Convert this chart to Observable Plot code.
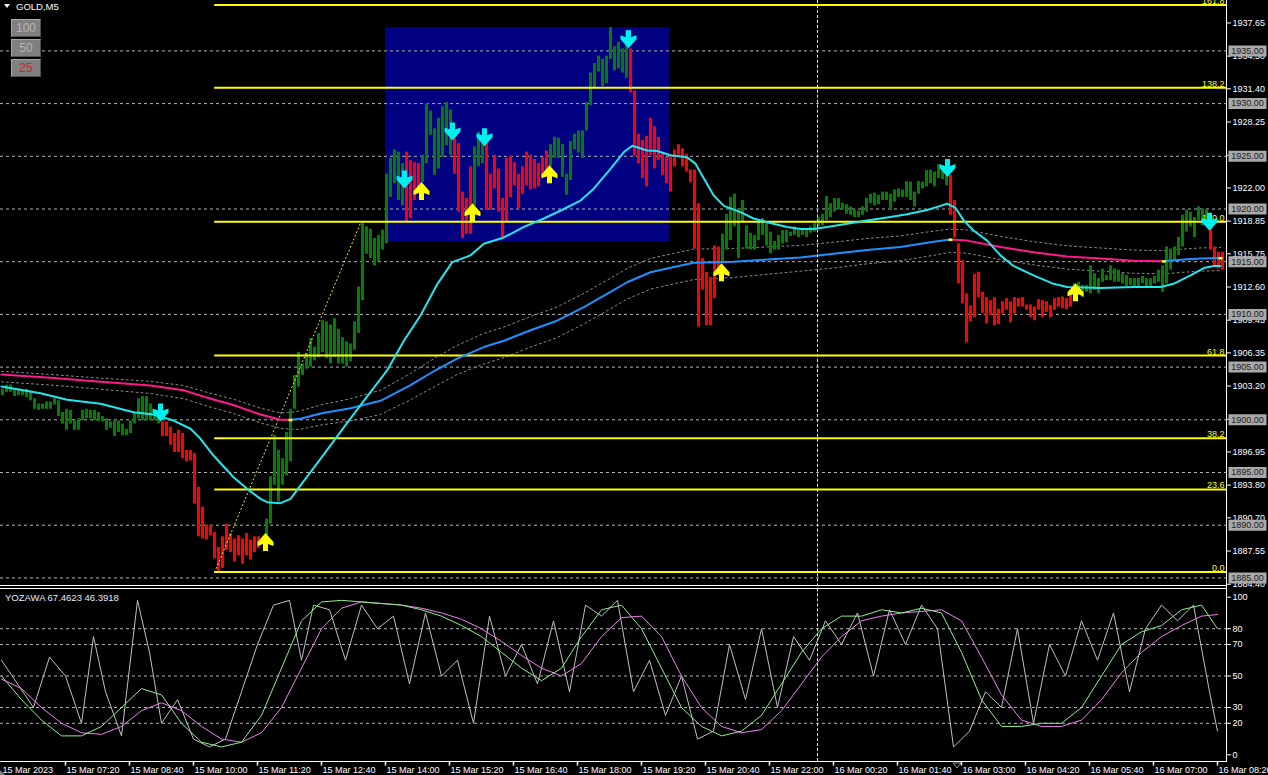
<!DOCTYPE html>
<html><head><meta charset="utf-8">
<script src="https://cdn.jsdelivr.net/npm/d3@7"></script>
<script src="https://cdn.jsdelivr.net/npm/@observablehq/plot@0.6"></script>
<style>
html,body{margin:0;padding:0;background:#000;overflow:hidden}
#wrap{position:relative;width:1268px;height:775px;background:#000;font-family:"Liberation Sans",Arial,sans-serif;overflow:hidden}
#wrap svg.plot{position:absolute;left:0;overflow:visible}
.hl{position:absolute;background:#fff;height:1px}
.vl{position:absolute;background:#fff;width:1px}
.btn{position:absolute;left:11px;width:28px;height:16px;background:#808080;border-top:1px solid #a8a8a8;border-left:1px solid #a8a8a8;border-right:1px solid #505050;border-bottom:1px solid #505050;font-size:12px;line-height:16px;text-align:center;color:#b4b4b4}
#title{position:absolute;left:16px;top:1px;font-size:9.5px;color:#fff}
#tri{position:absolute;left:4px;top:4px;width:0;height:0;border-left:3.5px solid transparent;border-right:3.5px solid transparent;border-top:4px solid #fff}
#ind{position:absolute;left:5px;top:592px;font-size:9.5px;color:#e4ebff}
</style></head>
<body><div id="wrap">
<div id="tri"></div><div id="title">GOLD,M5</div>
</div>
<script>
// ---------------- DATA ----------------
const barOpen = [
1902.3,1902.6,1902.6,1902.2,1902.3,1902.3,1902.1,1901.8,1901.0,1900.9,
1901.0,1901.0,1901.0,1901.4,1900.3,1899.6,1899.0,1899.6,1899.0,1899.0,
1899.9,1900.1,1900.1,1899.9,1899.8,1899.8,1899.0,1899.2,1898.4,1898.8,
1898.5,1898.5,1898.7,1899.6,1900.1,1899.9,1899.9,1899.9,1899.9,1899.6,
1899.8,1899.8,1899.3,1898.7,1899.0,1898.7,1897.1,1897.1,1896.8,1893.6,
1891.7,1890.0,1890.0,1889.3,1887.9,1888.9,1890.1,1889.2,1888.7,1889.0,
1888.7,1889.2,1888.6,1888.9,1888.9,1888.7,1888.9,1890.1,1893.8,1892.2,
1893.8,1894.7,1896.0,1901.0,1903.1,1904.2,1904.8,1905.0,1905.6,1905.9,
1906.4,1905.8,1905.3,1905.9,1905.3,1905.3,1905.0,1905.5,1906.6,1908.2,
1911.3,1915.7,1915.3,1914.6,1915.0,1916.1,1916.7,1921.1,1922.4,1920.8,
1920.3,1925.4,1924.6,1924.4,1924.3,1922.5,1924.3,1927.0,1923.2,1923.8,
1924.9,1926.0,1925.1,1926.8,1926.2,1921.6,1921.0,1924.0,1920.3,1924.0,
1924.3,1926.2,1923.3,1925.1,1923.8,1921.0,1924.8,1925.0,1924.4,1923.3,
1924.0,1925.4,1925.1,1924.7,1924.3,1924.9,1925.5,1924.0,1924.8,1924.8,
1923.0,1921.3,1922.7,1925.6,1925.3,1924.8,1927.4,1929.8,1931.4,1933.0,
1931.6,1931.9,1934.2,1933.1,1933.3,1932.9,1932.4,1935.2,1931.2,1927.1,
1926.5,1926.9,1928.6,1927.8,1926.8,1925.2,1924.9,1925.0,1925.6,1926.1,
1925.7,1925.2,1923.7,1923.7,1920.5,1915.3,1914.0,1913.5,1916.5,1916.4,
1914.8,1916.1,1917.0,1918.3,1915.3,1918.75,1916.2,1916.1,1916.1,1917.0,
1917.5,1916.5,1915.75,1916.1,1916.1,1916.7,1916.8,1917.4,1917.5,1917.3,
1917.5,1917.3,1917.7,1917.8,1918.3,1918.4,1918.9,1919.2,1919.7,1919.9,
1919.9,1919.5,1919.4,1919.2,1919.2,1919.4,1919.7,1920.5,1920.3,1920.4,
1920.8,1920.8,1919.9,1920.65,1921.1,1921.1,1921.1,1920.8,1920.2,1921.4,
1921.9,1922.1,1922.4,1922.1,1922.9,1922.8,1922.2,1923.2,1920.8,1916.7,
1915.1,1911.95,1910.8,1913.8,1914.0,1912.1,1911.6,1911.3,1911.6,1910.5,
1911.2,1911.5,1911.2,1911.6,1911.5,1911.6,1910.9,1910.9,1910.7,1911.4,
1911.3,1911.2,1910.85,1911.5,1911.6,1911.65,1911.5,1912.3,1911.6,1912.3,
1911.6,1912.1,1911.95,1912.3,1911.95,1913.05,1913.2,1913.2,1913.05,1913.05,
1912.9,1912.65,1912.75,1912.6,1912.65,1912.9,1912.6,1912.6,1912.9,1913.05,
1912.1,1912.9,1914.2,1915.1,1915.6,1916.4,1917.8,1918.3,1917.3,1918.9,
1918.4,1918.6,1919.1,1916.4,1915.9,1915.9];
const barClose = [
1902.9,1903.3,1903.3,1902.9,1902.9,1902.8,1902.9,1902.6,1902.0,1901.5,
1901.5,1901.7,1901.7,1902.0,1901.8,1900.7,1901.0,1900.9,1899.9,1900.1,
1900.9,1901.0,1900.9,1900.9,1900.7,1900.3,1900.1,1899.8,1899.9,1899.9,
1899.6,1899.1,1899.9,1900.6,1902.0,1902.2,1902.2,1901.5,1900.7,1900.3,
1898.4,1898.4,1897.6,1896.9,1896.9,1896.3,1896.0,1896.1,1892.0,1888.9,
1888.7,1888.6,1889.0,1886.8,1885.5,1885.9,1887.6,1887.4,1886.5,1887.1,
1886.3,1887.1,1886.7,1887.4,1887.8,1888.2,1890.6,1894.6,1898.5,1897.1,
1896.3,1898.8,1901.0,1904.2,1906.4,1905.3,1906.3,1907.7,1906.9,1908.2,
1909.4,1909.3,1909.0,1909.6,1908.6,1907.8,1907.4,1907.2,1909.3,1912.6,
1918.6,1918.3,1918.1,1917.2,1917.5,1918.0,1923.3,1924.8,1925.6,1925.4,
1924.3,1918.8,1919.1,1920.8,1921.8,1925.1,1930.0,1929.3,1927.6,1928.6,
1929.7,1930.1,1929.4,1923.3,1919.7,1917.2,1917.6,1917.6,1925.9,1927.3,
1927.0,1919.9,1919.9,1921.9,1919.7,1917.3,1918.8,1921.1,1922.2,1920.0,
1921.4,1922.2,1921.8,1921.9,1922.1,1923.0,1923.0,1926.1,1926.8,1926.7,
1926.1,1923.3,1926.4,1927.1,1927.4,1927.4,1930.1,1932.9,1933.8,1934.5,
1934.2,1934.5,1937.2,1935.4,1935.8,1935.2,1936.9,1931.0,1925.0,1924.3,
1922.9,1922.1,1925.1,1923.8,1924.6,1923.2,1922.4,1921.6,1924.0,1925.1,
1924.0,1923.5,1922.5,1916.2,1908.8,1912.3,1908.95,1908.95,1911.5,1914.2,
1917.6,1919.5,1921.1,1921.4,1920.0,1920.8,1918.4,1917.7,1917.5,1918.9,
1919.1,1918.75,1917.8,1916.9,1917.5,1917.96,1917.96,1917.8,1918.3,1917.96,
1917.96,1918.1,1918.3,1918.6,1919.2,1919.5,1921.2,1920.5,1921.0,1921.0,
1920.55,1920.4,1920.2,1919.9,1919.8,1920.2,1921.0,1921.4,1921.5,1921.3,
1921.6,1921.6,1921.4,1921.8,1921.9,1921.8,1922.6,1922.55,1921.6,1922.6,
1922.55,1923.65,1923.7,1923.5,1924.2,1923.6,1924.3,1919.4,1917.3,1912.9,
1911.0,1907.3,1909.3,1909.7,1911.6,1910.1,1909.1,1909.9,1908.95,1909.05,
1910.05,1910.4,1909.2,1910.05,1910.7,1910.7,1910.4,1909.7,1909.4,1910.4,
1909.7,1910.2,1909.7,1910.4,1910.7,1910.55,1910.45,1910.7,1912.9,1913.05,
1912.75,1912.75,1914.6,1913.85,1913.4,1914.3,1913.7,1914.6,1914.3,1914.2,
1913.85,1913.7,1913.4,1913.4,1913.4,1913.6,1913.4,1913.4,1913.6,1914.2,
1914.6,1916.4,1916.2,1916.4,1917.3,1919.4,1919.9,1919.7,1919.2,1920.2,
1920.0,1919.9,1916.1,1914.6,1914.3,1914.2];

// fast moving average (cyan)
const fastBars = [0,9.75,16.4,24.75,33,38,43,47.25,49.75,53,58,61.4,64.75,66.4,69.75,72.25,74.75,79.75,86,91,96.4,100.6,104.75,109,112.7,117.25,120.6,125.6,130.6,135.6,140.6,144.75,148,152.25,155.6,157.7,161.4,163.9,167.25,171.4,173.5,175.6,178,180.6,184.75,188,191.4,196.4,199.75,203,206.4,211.4,216.4,221.4,226.4,231.4,234.75,236.4,238.5,240.6,243,246.4,249.75,253,258,263,266.4,274.75,283,289.75,293,297.25,300.6,303,304.75];
const fastVals = [1903.16,1902.52,1901.9,1901.52,1900.72,1900.5,1899.93,1899.15,1898.2,1896.61,1894.55,1893.45,1892.5,1892.18,1892.09,1892.5,1893.77,1896.3,1899.5,1902.0,1904.68,1907.5,1909.9,1912.9,1914.96,1915.6,1916.7,1917.3,1918.3,1919.1,1920.0,1920.8,1921.9,1923.8,1925.4,1926.0,1925.55,1925.5,1925.1,1924.9,1924.3,1922.9,1921.3,1920.3,1919.7,1919.1,1918.75,1918.3,1918.1,1918.1,1918.3,1918.6,1918.9,1919.2,1919.5,1919.9,1920.3,1920.5,1920.1,1918.9,1917.96,1917.0,1915.6,1914.6,1913.7,1912.9,1912.6,1912.5,1912.6,1912.6,1912.9,1913.7,1914.4,1914.6,1914.6];

// slow moving average (pink falling / blue rising) and its envelope
const slowBars = [0,12.25,24.75,37.25,45.5,51.4,58,64.75,69.75,72.25,74.75,79.75,87.25,94.75,102.25,108.5,113.9,120.6,125.6,132.25,138.9,145.6,151.4,156.4,162.25,168.1,173.1,183,191.4,199.75,208,216.4,224.75,233,237.25,241.4,249.75,258,266.4,274.75,283,290.6,295.6,299.75,304.75];
const slowVals = [1904.3,1904.0,1903.6,1903.25,1902.8,1902.1,1901.4,1900.5,1900.0,1900.0,1900.1,1900.6,1901.1,1901.8,1903.3,1904.7,1905.8,1906.9,1907.5,1908.5,1909.4,1910.7,1911.95,1913.05,1914.0,1914.5,1914.9,1915.0,1915.2,1915.4,1915.75,1916.1,1916.4,1916.9,1917.1,1917.0,1916.4,1915.9,1915.5,1915.3,1915.1,1915.05,1915.2,1915.3,1915.35];
const slowTurnBars = [72.25,237.25,290.6];
const envUpper = [1904.6,1904.3,1903.95,1903.65,1903.25,1902.6,1901.95,1901.1,1900.65,1900.7,1900.85,1901.4,1902.0,1902.8,1904.4,1905.9,1907.05,1908.2,1908.8,1909.8,1910.7,1912.0,1913.25,1914.35,1915.3,1915.8,1916.2,1916.25,1916.4,1916.55,1916.85,1917.2,1917.45,1917.9,1918.1,1918.0,1917.4,1916.9,1916.5,1916.3,1916.1,1916.05,1916.2,1916.3,1916.35];
const envLower = [1903.6,1903.3,1902.9,1902.5,1902.0,1901.3,1900.6,1899.7,1899.2,1899.1,1899.1,1899.5,1899.9,1900.5,1901.9,1903.2,1904.3,1905.3,1905.9,1906.9,1907.8,1909.1,1910.35,1911.45,1912.4,1912.9,1913.3,1913.5,1913.8,1914.1,1914.4,1914.8,1915.1,1915.6,1915.9,1915.8,1915.2,1914.7,1914.3,1914.1,1913.9,1913.85,1914.0,1914.1,1914.15];

// signal arrows
const downArrowBars = [39.75,100.75,112.75,120.75,156.75,236.5,302];
const downArrowPrices = [1900.7,1922.8,1927.35,1926.8,1936.1,1923.9,1918.8];
const upArrowBars = [66,105,117.75,137,180,268.5];
const upArrowPrices = [1888.4,1921.7,1919.7,1923.3,1914.0,1912.1];

// Fibonacci retracement
const fibAnchorBars = [53.3,89.9];
const fibAnchorPrices = [1885.55,1918.8];
const fibLevels = [0,23.6,38.2,61.8,100,138.2,161.8];

// rectangle zone
const zoneBars = [96,167];
const zonePrices = [1916.9,1937.2];

// horizontal price lines, axis ticks
const levelPrices = [1885,1890,1895,1900,1905,1910,1915,1920,1925,1930,1935];
const priceTicks = [1937.65,1934.50,1931.40,1928.25,1925.10,1922.00,1918.85,1915.75,1912.60,1909.45,1906.35,1903.20,1900.05,1896.95,1893.80,1890.70,1887.55,1884.40];
const daySeparatorBars = [204];

// time axis
const timeTickBars = [0,16,32,48,64,80,96,112,128,144,160,176,192,208,224,240,256,272,288,304];
const timeLabels = ["15 Mar 2023","15 Mar 07:20","15 Mar 08:40","15 Mar 10:00","15 Mar 11:20","15 Mar 12:40","15 Mar 14:00","15 Mar 15:20","15 Mar 16:40","15 Mar 18:00","15 Mar 19:20","15 Mar 20:40","15 Mar 22:00","16 Mar 00:20","16 Mar 01:40","16 Mar 03:00","16 Mar 04:20","16 Mar 05:40","16 Mar 07:00","16 Mar 08:20"];

// oscillator (YOZAWA)
const oscBars = [0,5,10,15,20,25,30,35,40,45,50,55,60,65,70,75,80,85,90,95,100,105,110,115,120,125,130,135,140,145,150,155,160,165,170,175,180,185,190,195,200,205,210,215,220,225,230,235,240,245,250,255,260,265,270,275,280,285,290,295,300,304];
const oscGreen = [50,35,22,12,12,18,30,42,38,20,8,5,8,25,55,85,97,98,97,96,95,92,88,82,75,65,55,47,55,75,92,95,80,55,30,18,12,15,25,45,65,80,88,88,92,90,93,90,65,35,18,18,20,20,30,50,70,78,82,92,95,80];
const oscPink = [48,42,30,20,14,13,18,28,33,28,18,10,8,14,30,55,80,93,97,96,95,93,90,86,80,72,63,55,50,58,75,87,88,75,50,30,18,14,16,28,45,62,75,85,88,90,91,92,85,62,38,22,18,18,22,35,52,65,75,82,88,89];
const grayBars = [0,4,8,12,16,20,23,26,30,34,37,40,44,48,52,56,60,64,68,72,75,78,82,86,90,94,98,102,106,110,114,118,122,126,130,134,138,142,146,150,154,158,162,166,170,174,178,182,186,190,194,198,202,206,210,214,218,222,226,230,234,238,242,246,250,254,258,262,266,270,274,278,282,286,290,294,298,302,304];
const grayVals = [60,45,30,62,50,20,75,40,12,98,65,20,35,10,5,10,40,70,95,98,60,95,92,60,95,80,88,45,90,50,60,20,88,50,70,45,85,40,95,88,98,40,60,25,50,10,15,70,35,80,30,75,60,85,70,90,50,92,70,95,80,5,15,40,30,80,20,70,50,85,60,90,40,80,95,85,95,40,15];
const oscLevels = [80,70,50,30,20];
const oscTicks = [100,80,70,50,30,20,0];

// ---------------- BUILD ----------------
const FONT = '"Liberation Sans", Arial, sans-serif';
const W = 1268, MR = 42;
const xDomain = [-0.25, 306.25];
const bars = barOpen.map((o, i) => ({i, o, c: barClose[i]}));
const fast = fastBars.map((b, k) => ({b, v: fastVals[k]}));
let seg = 0; const slowPts = [], turnPts = [];
slowBars.forEach((b, k) => {
  slowPts.push({b, v: slowVals[k], seg});
  if (slowTurnBars.includes(b)) { seg++; slowPts.push({b, v: slowVals[k], seg}); turnPts.push({b, v: slowVals[k]}); }
});
turnPts.push({b: slowBars[slowBars.length-1], v: slowVals[slowVals.length-1]});
const envU = slowBars.map((b, k) => ({b, v: envUpper[k]}));
const envL = slowBars.map((b, k) => ({b, v: envLower[k]}));
const fibLow = fibAnchorPrices[0], fibHigh = fibAnchorPrices[1];
const fibs = fibLevels.map(l => ({l, p: fibLow + (fibHigh - fibLow) * l / 100}));
const fibDiag = fibAnchorBars.map((b, k) => ({b, p: fibAnchorPrices[k]}));
const downs = downArrowBars.map((b, k) => ({b, p: downArrowPrices[k]}));
const ups = upArrowBars.map((b, k) => ({b, p: upArrowPrices[k]}));
const zone = [{b1: zoneBars[0], b2: zoneBars[1], p1: zonePrices[0], p2: zonePrices[1]}];

const arrowDown = {draw(ctx) {
  ctx.moveTo(-2.5,-9); ctx.lineTo(2.5,-9); ctx.lineTo(2.5,-2); ctx.lineTo(8,-4); ctx.lineTo(8,0);
  ctx.lineTo(0,9); ctx.lineTo(-8,0); ctx.lineTo(-8,-4); ctx.lineTo(-2.5,-2); ctx.closePath();
}};
const arrowUp = {draw(ctx) {
  ctx.moveTo(-2.5,9); ctx.lineTo(2.5,9); ctx.lineTo(2.5,2); ctx.lineTo(8,4); ctx.lineTo(8,0);
  ctx.lineTo(0,-9); ctx.lineTo(-8,0); ctx.lineTo(-8,4); ctx.lineTo(-2.5,2); ctx.closePath();
}};
const boxSym = {draw(ctx) { ctx.rect(-19,-5.5,38,11); }};
const tickSym = {draw(ctx) { ctx.moveTo(0,0); ctx.lineTo(0,4); }};
const turnSym = {draw(ctx) { ctx.rect(-2,-1,4,2.5); }};

const style = {background: "transparent", color: "#fff", fontFamily: FONT, fontSize: "9px", overflow: "visible"};

const main = Plot.plot({
  width: W, height: 586, marginLeft: 0, marginRight: MR, marginTop: 0, marginBottom: 1,
  style,
  x: {domain: xDomain, axis: null},
  y: {domain: [1884.28, 1939.78], axis: null},
  marks: [
    Plot.rect(zone, {x1: "b1", x2: "b2", y1: "p1", y2: "p2", fill: "#000080"}),
    Plot.ruleY(levelPrices, {stroke: "#b4b4b4", strokeDasharray: "3,3", strokeWidth: 1}),
    Plot.line(envU, {x: "b", y: "v", stroke: "#8a8a8a", strokeWidth: 1, strokeDasharray: "2,3"}),
    Plot.line(envL, {x: "b", y: "v", stroke: "#8a8a8a", strokeWidth: 1, strokeDasharray: "2,3"}),
    Plot.rect(bars.filter(d => d.c >= d.o), {x1: d => d.i, x2: d => d.i + 0.75, y1: "o", y2: "c", fill: "#008000"}),
    Plot.rect(bars.filter(d => d.c < d.o), {x1: d => d.i, x2: d => d.i + 0.75, y1: "o", y2: "c", fill: "#ff0000"}),
    Plot.ruleY(fibs, {y: "p", x1: () => fibAnchorBars[0], x2: () => xDomain[1], stroke: "#ffff00", strokeWidth: 2}),
    Plot.line(fibDiag, {x: "b", y: "p", stroke: "#ffff00", strokeWidth: 1, strokeDasharray: "1,3"}),
    Plot.line(slowPts.filter(d => d.seg % 2 === 0), {x: "b", y: "v", z: "seg", stroke: "#ff1a8c", strokeWidth: 2}),
    Plot.line(slowPts.filter(d => d.seg % 2 === 1), {x: "b", y: "v", z: "seg", stroke: "#1e90ff", strokeWidth: 2}),
    Plot.dot(turnPts, {x: "b", y: "v", symbol: turnSym, fill: "#ffff00", stroke: "none"}),
    Plot.line(fast, {x: "b", y: "v", stroke: "#22e6ee", strokeWidth: 2}),
    Plot.text(fibs, {y: "p", frameAnchor: "right", text: d => d.l.toFixed(1), textAnchor: "end", lineAnchor: "bottom", dx: -2, dy: -1, fill: "#ffff00", fontSize: 9}),
    Plot.dot(downs, {x: "b", y: "p", symbol: arrowDown, fill: "#00f0f0", stroke: "none"}),
    Plot.dot(ups, {x: "b", y: "p", symbol: arrowUp, fill: "#ffff00", stroke: "none"}),
    Plot.axisY({anchor: "right", ticks: priceTicks, tickFormat: d => d.toFixed(2), tickSize: 4, tickPadding: 2, color: "#fff", fontSize: 9, label: null}),
    Plot.dot(levelPrices, {y: d => d, frameAnchor: "right", dx: 21, symbol: boxSym, fill: "#a9a9a9", stroke: "none"}),
    Plot.text(levelPrices, {y: d => d, frameAnchor: "right", dx: 21, textAnchor: "middle", text: d => d.toFixed(2), fill: "#1a1a1a", fontSize: 9})
  ]
});
main.classList.add("plot");
main.style.top = "0px";

const ind = Plot.plot({
  width: W, height: 189, marginLeft: 0, marginRight: MR, marginTop: 10.7, marginBottom: 14,
  style,
  x: {domain: xDomain, axis: null},
  y: {domain: [-4.25, 100], axis: null},
  marks: [
    Plot.ruleY(oscLevels, {stroke: "#b4b4b4", strokeDasharray: "3,3", strokeWidth: 1}),
    Plot.line(grayBars.map((b, k) => ({b, v: grayVals[k]})), {x: "b", y: "v", stroke: "#c0c0c0", strokeWidth: 1}),
    Plot.line(oscBars.map((b, k) => ({b, v: oscPink[k]})), {x: "b", y: "v", stroke: "#ee82ee", strokeWidth: 1}),
    Plot.line(oscBars.map((b, k) => ({b, v: oscGreen[k]})), {x: "b", y: "v", stroke: "#90ee90", strokeWidth: 1}),
    Plot.axisY({anchor: "right", ticks: oscTicks, tickSize: 4, tickPadding: 2, color: "#fff", fontSize: 9, label: null}),
    Plot.dot(timeTickBars.slice(1), {x: d => d, frameAnchor: "bottom", symbol: tickSym, fill: "none", stroke: "#fff"}),
    Plot.text(timeTickBars, {x: d => d, frameAnchor: "bottom", text: (d, i) => timeLabels[i], textAnchor: "start", lineAnchor: "top", dx: 1, dy: 5, fill: "#fff", fontSize: 9})
  ]
});
ind.classList.add("plot");
ind.style.top = "586px";

const wrap = document.getElementById("wrap");
wrap.insertBefore(ind, wrap.firstChild);
wrap.insertBefore(main, wrap.firstChild);

function addDiv(cls, css, html) {
  const d = document.createElement("div");
  d.className = cls; d.style.cssText = css; if (html) d.innerHTML = html;
  wrap.appendChild(d); return d;
}
// panel frames
addDiv("hl", "left:0;top:585px;width:1227px");
addDiv("hl", "left:0;top:588px;width:1227px");
addDiv("hl", "left:0;top:761px;width:1227px");
addDiv("vl", "left:1226px;top:0;height:762px");
// day separator (through both panels)
const xs = main.scale("x");
const sx = xs.apply ? xs.apply(daySeparatorBars[0]) : d3.scaleLinear(xs.domain, xs.range)(daySeparatorBars[0]);
addDiv("", `position:absolute;left:${Math.round(sx)}px;top:0;height:761px;width:0;border-left:1px dashed #e8e8e8`);
// zoom buttons
addDiv("btn", "top:19px", "100");
addDiv("btn", "top:39px", "50");
addDiv("btn", "top:59px;color:#d42020", "25");
// indicator caption
addDiv("", "", "").id = "ind";
document.getElementById("ind").textContent = "YOZAWA 67.4623 46.3918";
// chart shift marker
addDiv("", "position:absolute;left:952px;top:755px;width:10px;height:7px", '<svg width="10" height="7"><path d="M1,1 L9,1 L5,6 Z" fill="none" stroke="#9a9a9a"/></svg>');
addDiv("", "position:absolute;left:0;top:762px;width:6px;height:6px", '<svg width="6" height="6"><path d="M0,0 L5,5 L0,5 Z" fill="#808080"/></svg>');
</script>
</body></html>
